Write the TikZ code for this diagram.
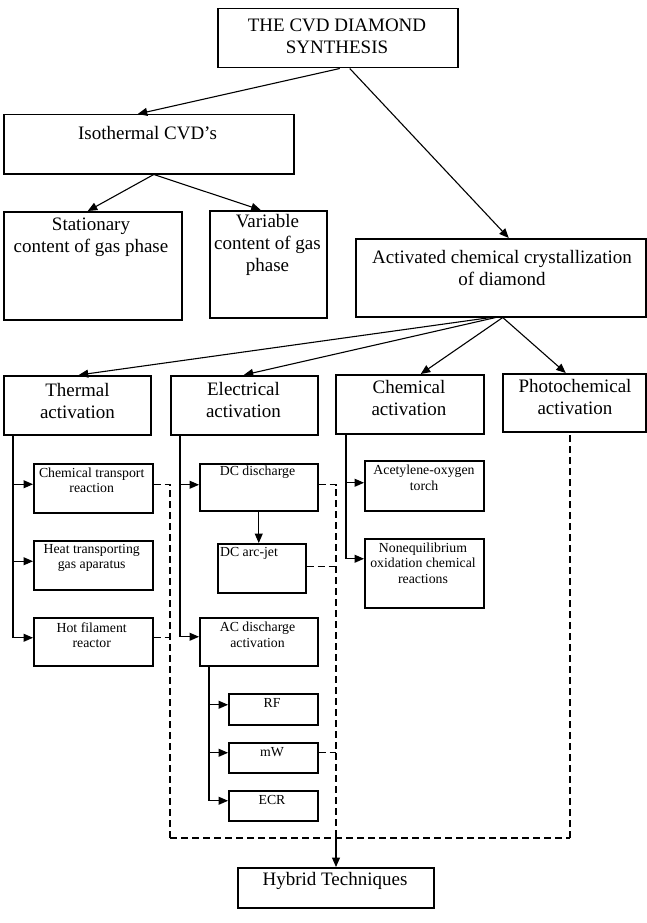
\documentclass[tikz,border=0pt]{standalone}
\usepackage{fontspec}
\setmainfont{Liberation Serif}
\usetikzlibrary{arrows.meta,calc}
\begin{document}
\begin{tikzpicture}[x=1pt,y=-1pt,
  box/.style={draw,line width=1.5pt,inner sep=0pt,anchor=north west,rectangle},
  big/.style={font=\fontsize{19}{22}\selectfont,align=center,inner sep=0pt},
  small/.style={font=\fontsize{13.8}{15.5}\selectfont,align=center,inner sep=0pt},
  arr/.style={line width=1.1pt,-{Triangle[length=9.5pt,width=8pt]}},
  dsh/.style={line width=1.1pt,dash pattern=on 7pt off 4pt}]
\fill[white] (0,0) rectangle (647,923);
\useasboundingbox (0,0) rectangle (647,923);
% boxes
\node[box,minimum width=240pt,minimum height=59pt] (top) at (217,8) {};
\node[box,minimum width=290pt,minimum height=59pt] (iso) at (3,114) {};
\node[box,minimum width=178pt,minimum height=108pt] (stat) at (3,211) {};
\node[box,minimum width=117pt,minimum height=107pt] (var) at (209,210) {};
\node[box,minimum width=290pt,minimum height=78pt] (act) at (355,238) {};
\node[box,minimum width=147pt,minimum height=59pt] (thermal) at (3,375) {};
\node[box,minimum width=147pt,minimum height=59pt] (elec) at (170,375) {};
\node[box,minimum width=148pt,minimum height=59pt] (chem) at (335,374) {};
\node[box,minimum width=143pt,minimum height=58pt] (photo) at (502,373) {};
\node[box,minimum width=119pt,minimum height=49pt] (ctr) at (33,463) {};
\node[box,minimum width=119pt,minimum height=49pt] (heat) at (33,540) {};
\node[box,minimum width=119pt,minimum height=48pt] (hot) at (33,617) {};
\node[box,minimum width=118pt,minimum height=47pt] (dcd) at (199,463) {};
\node[box,minimum width=88pt,minimum height=49pt] (arc) at (217,543) {};
\node[box,minimum width=118pt,minimum height=48pt] (acd) at (199,617) {};
\node[box,minimum width=89pt,minimum height=31pt] (rf) at (228,693) {};
\node[box,minimum width=89pt,minimum height=30pt] (mw) at (228,742) {};
\node[box,minimum width=89pt,minimum height=30pt] (ecr) at (228,790) {};
\node[box,minimum width=119pt,minimum height=50pt] (acet) at (364,460) {};
\node[box,minimum width=119pt,minimum height=69pt] (noneq) at (364,538) {};
\node[box,minimum width=196pt,minimum height=40pt] (hyb) at (237,867) {};
% texts
\node[big] (topT) at (337,36.5) {THE CVD DIAMOND\\SYNTHESIS};
\node[big] (isoT) at (147.5,133) {Isothermal CVD’s};
\node[big] (statT) at (91,237) {Stationary\\content of gas phase};
\node[big] (varT) at (267.5,245) {Variable\\content of gas\\phase};
\node[big] (actT) at (502,267.5) {Activated chemical crystallization\\of diamond};
\node[big] (thermalT) at (77.5,400.5) {Thermal\\activation};
\node[big] (elecT) at (243.5,399.5) {Electrical\\activation};
\node[big] (chemT) at (409,398) {Chemical\\activation};
\node[big] (photoT) at (575,396.5) {Photochemical\\activation};
\node[small] (ctrT) at (91.7,480.5) {Chemical transport\\reaction};
\node[small] (heatT) at (91.7,558) {Heat transporting\\gas aparatus};
\node[small] (hotT) at (91.7,635) {Hot filament\\reactor};
\node[small] (dcdT) at (257.5,472) {DC discharge};
\node[small] (arcT) at (249,553) {DC arc-jet};
\node[small] (acdT) at (257.5,635) {AC discharge\\activation};
\node[small] (rfT) at (272,703) {RF};
\node[small] (mwT) at (272,752) {mW};
\node[small] (ecrT) at (272,800) {ECR};
\node[small] (acetT) at (424,478) {Acetylene-oxygen\\torch};
\node[small] (noneqT) at (423,563) {Nonequilibrium\\oxidation chemical\\reactions};
\node[big] (hybT) at (335,881) {Hybrid Techniques};
% main connectors
\draw[arr] ([xshift=2pt]top.south) -- ([xshift=-11pt]iso.north);
\draw[arr] ([xshift=12pt]top.south) -- ([xshift=8pt]act.north);
\draw[arr] ([xshift=5pt]iso.south) -- ([xshift=-5pt]stat.north);
\draw[arr] ([xshift=5pt]iso.south) -- ([xshift=-7.5pt]var.north);
\draw[arr] ([xshift=-10pt]act.south) -- ([xshift=1.5pt]thermal.north);
\draw[arr] ([xshift=-5pt]act.south) -- ([xshift=-0.5pt]elec.north);
\draw[arr] ([xshift=2pt]act.south) -- ([xshift=11pt]chem.north);
\draw[arr] ([xshift=2pt]act.south) -- ([xshift=-8.5pt]photo.north);
% thermal trunk
\draw[arr] ([xshift=10pt]thermal.south west) |- ([yshift=4pt]ctr.west);
\draw[arr] ([xshift=10pt]thermal.south west) |- ([yshift=4pt]heat.west);
\draw[arr] ([xshift=10pt]thermal.south west) |- ([yshift=4pt]hot.west);
% electrical trunk
\draw[arr] ([xshift=10pt]elec.south west) |- ([yshift=2.5pt]dcd.west);
\draw[arr] ([xshift=10pt]elec.south west) |- ([yshift=5pt]acd.west);
\draw[arr] (dcd.south) -- (dcd.south |- arc.north);
\draw[arr] ([xshift=10pt]acd.south west) |- ([yshift=4.5pt]rf.west);
\draw[arr] ([xshift=10pt]acd.south west) |- ([yshift=5pt]mw.west);
\draw[arr] ([xshift=10pt]acd.south west) |- ([yshift=5pt]ecr.west);
% chemical trunk
\draw[arr] ([xshift=11pt]chem.south west) |- ([yshift=3pt]acet.west);
\draw[arr] ([xshift=11pt]chem.south west) |- ([yshift=14.5pt]noneq.west);
% dashed hybrid links
\coordinate (blc) at (170,838);
\coordinate (brc) at (570,838);
\coordinate (hj) at (336,838);
\draw[dsh] ([yshift=3.5pt]ctr.east) -| (blc);
\draw[dsh] ($(hot.east)+(0,4pt)$) -- ($(hot.east -| blc)+(0,4pt)$);
\draw[dsh] (blc) -- (brc);
\draw[dsh] (brc) -- (brc |- photo.south);
\draw[dsh] ([yshift=2.5pt]dcd.east) -| (hj);
\draw[dsh] ($(arc.east)+(0,1.5pt)$) -- ($(arc.east -| hj)+(0,1.5pt)$);
\draw[dsh] ($(mw.east)+(0,5pt)$) -- ($(mw.east -| hj)+(0,5pt)$);
\draw[arr] (hj) -- (hj |- hyb.north);
\end{tikzpicture}
\end{document}
